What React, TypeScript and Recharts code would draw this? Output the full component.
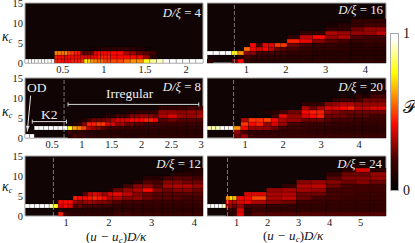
import { ComposedChart, ReferenceArea, ReferenceLine, XAxis, YAxis } from "recharts";

const colorStops = [
  { at: 0, rgb: [0, 0, 0] },
  { at: 0.2, rgb: [68, 0, 0] },
  { at: 0.42, rgb: [250, 8, 0] },
  { at: 0.75, rgb: [255, 255, 0] },
  { at: 0.97, rgb: [255, 255, 255] },
];

const kappaTicks = [0, 5, 10, 15];

const edges4 = [0.04, 0.08, 0.12, 0.16, 0.2, 0.24, 0.28, 0.32, 0.36, 0.4, 0.44, 0.48, 0.52, 0.56, 0.6, 0.64, 0.68, 0.72, 0.76, 0.8, 0.84, 0.88, 0.92, 0.96, 1, 1.04, 1.08, 1.16, 1.24, 1.32, 1.4, 1.48, 1.56, 1.64, 1.72, 1.8, 1.88, 1.96, 2.04, 2.12, 2.206];
const rows4 = [
  [1, 1, 1, 1, 1, 1, 1, 1, 1, 0.45, 0.45, 0.42, 0.42, 0.42, 0.45, 0.45, 0.45, 0.48, 0.74, 0.68, 0.6, 0.58, 0.55, 0.55, 0.5, 0.5, 0.5, 0.5, 0.55, 0.6, 0.6, 0.78, 0.88, 0.92, 1, 1, 1, 1, 1, 1],
  [0, 0, 0, 0, 0, 0, 0, 0, 0, 0.45, 0.42, 0.42, 0.4, 0.42, 0.42, 0.42, 0.4, 0.4, 0.38, 0.38, 0.4, 0.42, 0.45, 0.45, 0.45, 0.45, 0.42, 0.42, 0.42, 0.42, 0.4, 0.3, 0.12],
  [0, 0, 0, 0, 0, 0, 0, 0, 0, 0.58, 0.58, 0.56, 0.58, 0.5, 0.48, 0.45, 0.44, 0.24, 0.24, 0.24, 0.26, 0.4, 0.42, 0.42, 0.42, 0.42, 0.42, 0.42, 0.32, 0.3, 0.25, 0.22, 0.2],
  [0, 0, 0, 0, 0, 0, 0, 0, 0, 0, 0, 0, 0, 0, 0, 0, 0, 0, 0, 0, 0.06, 0.08, 0.1, 0.12, 0.12, 0.12, 0.14, 0.14, 0.14, 0.12, 0.1, 0.06],
];

const edges8 = [0.045, 0.12, 0.2, 0.28, 0.36, 0.44, 0.52, 0.6, 0.68, 0.76, 0.84, 0.92, 1, 1.08, 1.16, 1.24, 1.32, 1.4, 1.48, 1.56, 1.64, 1.72, 1.8, 1.88, 1.96, 2.04, 2.12, 2.2, 2.28, 2.44, 2.6, 2.76, 2.92, 3.03];
const rows8 = [
  [1, 1, 0, 0, 0, 0, 0, 0, 0, 0.12, 0.22, 0.18, 0.18, 0.15, 0.14, 0.14, 0.14, 0.15, 0.15, 0.14, 0.14, 0.12, 0.12, 0.12, 0.14, 0.14, 0.14, 0.14, 0.14, 0.14, 0.14, 0.14, 0.14],
  [0, 0, 0, 0, 0, 0, 0, 0, 0, 0.2, 0.15, 0.15, 0.15, 0.12, 0.12, 0.12, 0.12, 0.12, 0.12, 0.12, 0.12, 0.12, 0.12, 0.12, 0.12, 0.12, 0.12, 0.12, 0.12, 0.12, 0.12, 0.12, 0.12],
  [0, 0, 1, 1, 1, 1, 1, 1, 1, 0.78, 0.62, 0.58, 0.5, 0.35, 0.3, 0.28, 0.22, 0.2, 0.2, 0.18, 0.18, 0.16, 0.16, 0.15, 0.15, 0.15, 0.15, 0.15, 0.14, 0.14, 0.14, 0.14, 0.14],
  [0, 0, 0, 0, 0, 0, 0, 0, 0, 0.08, 0.12, 0.15, 0.28, 0.45, 0.45, 0.48, 0.48, 0.38, 0.38, 0.3, 0.32, 0.25, 0.25, 0.22, 0.22, 0.2, 0.2, 0.2, 0.18, 0.18, 0.18, 0.18, 0.18],
  [0, 0, 0, 0, 0, 0, 0, 0, 0, 0, 0, 0.08, 0.1, 0.2, 0.25, 0.25, 0.25, 0.28, 0.33, 0.38, 0.38, 0.38, 0.42, 0.42, 0.42, 0.45, 0.45, 0.42, 0.22, 0.25, 0.22, 0.22, 0.22],
  [0, 0, 0, 0, 0, 0, 0, 0, 0, 0, 0, 0, 0, 0, 0, 0, 0.08, 0.12, 0.12, 0.2, 0.2, 0.2, 0.28, 0.28, 0.3, 0.3, 0.28, 0.25, 0.33, 0.38, 0.3, 0.3, 0.33],
  [0, 0, 0, 0, 0, 0, 0, 0, 0, 0, 0, 0, 0, 0, 0, 0, 0, 0, 0, 0, 0, 0.1, 0.1, 0.12, 0.15, 0.15, 0.15, 0.15, 0.3, 0.3, 0.28, 0.3, 0.3],
  [0, 0, 0, 0, 0, 0, 0, 0, 0, 0, 0, 0, 0, 0, 0, 0, 0, 0, 0, 0, 0, 0, 0, 0, 0, 0, 0, 0, 0.15, 0.15, 0.15, 0.2, 0.2],
];

const edges12 = [0.035, 0.15, 0.26, 0.38, 0.49, 0.6, 0.7, 0.81, 0.93, 1.04, 1.16, 1.27, 1.38, 1.5, 1.61, 1.73, 1.84, 1.96, 2.09, 2.32, 2.56, 2.79, 3.03, 3.26, 3.49, 3.73, 3.96, 4.2];
const rows12 = [
  [0, 0, 0, 0, 0, 0, 0, 0.45, 0.2, 0.16, 0.14, 0.14, 0.14, 0.14, 0.14, 0.14, 0.14, 0.14, 0.2, 0.2, 0.18, 0.18, 0.18, 0.18, 0.18, 0.18, 0.18],
  [0, 0, 0, 0, 0, 0, 0, 0.12, 0.1, 0.12, 0.12, 0.12, 0.12, 0.12, 0.12, 0.12, 0.12, 0.12, 0.14, 0.14, 0.14, 0.14, 0.14, 0.14, 0.14, 0.14, 0.14],
  [1, 1, 1, 1, 1, 0.9, 0.78, 0.38, 0.42, 0.38, 0.2, 0.25, 0.2, 0.2, 0.2, 0.18, 0.18, 0.18, 0.16, 0.16, 0.16, 0.16, 0.16, 0.16, 0.16, 0.16, 0.16],
  [0, 0, 0, 0, 0, 0, 0, 0.42, 0.42, 0.42, 0.3, 0.28, 0.3, 0.32, 0.3, 0.28, 0.28, 0.25, 0.22, 0.2, 0.2, 0.18, 0.18, 0.18, 0.18, 0.18, 0.18],
  [0, 0, 0, 0, 0, 0, 0, 0, 0, 0, 0.45, 0.42, 0.42, 0.44, 0.46, 0.45, 0.42, 0.33, 0.33, 0.28, 0.3, 0.25, 0.22, 0.22, 0.22, 0.2, 0.2],
  [0, 0, 0, 0, 0, 0, 0, 0, 0, 0, 0, 0, 0.22, 0.35, 0.38, 0.35, 0.3, 0.38, 0.4, 0.35, 0.28, 0.25, 0.22, 0.22, 0.22, 0.22, 0.22],
  [0, 0, 0, 0, 0, 0, 0, 0, 0, 0, 0, 0, 0, 0, 0, 0, 0, 0.1, 0.25, 0.3, 0.33, 0.42, 0.28, 0.25, 0.28, 0.28, 0.25],
  [0, 0, 0, 0, 0, 0, 0, 0, 0, 0, 0, 0, 0, 0, 0, 0, 0, 0, 0, 0.2, 0.28, 0.28, 0.22, 0.32, 0.33, 0.33, 0.3],
  [0, 0, 0, 0, 0, 0, 0, 0, 0, 0, 0, 0, 0, 0, 0, 0, 0, 0, 0, 0, 0.12, 0.22, 0.2, 0.28, 0.28, 0.25, 0.25],
  [0, 0, 0, 0, 0, 0, 0, 0, 0, 0, 0, 0, 0, 0, 0, 0, 0, 0, 0, 0, 0, 0.12, 0.12, 0.2, 0.22, 0.22, 0.2],
  [0, 0, 0, 0, 0, 0, 0, 0, 0, 0, 0, 0, 0, 0, 0, 0, 0, 0, 0, 0, 0, 0, 0, 0, 0.12, 0.12, 0.12],
  [0, 0, 0, 0, 0, 0, 0, 0, 0, 0, 0, 0, 0, 0, 0, 0, 0, 0, 0, 0, 0, 0, 0, 0, 0, 0.08, 0.1],
];

const edges16 = [0.01, 0.165, 0.32, 0.475, 0.63, 0.785, 0.94, 1.095, 1.25, 1.405, 1.56, 1.715, 1.87, 2.025, 2.35, 2.67, 2.99, 3.31, 3.63, 3.95, 4.27, 4.52];
const rows16 = [
  [0.15, 0, 0, 0, 0.25, 0.42, 0.14, 0.12, 0.12, 0.12, 0.12, 0.12, 0.12, 0.12, 0.14, 0.14, 0.14, 0.14, 0.14, 0.14, 0.14],
  [0, 0, 0, 0, 0.05, 0.1, 0.2, 0.15, 0.15, 0.14, 0.14, 0.14, 0.14, 0.12, 0.12, 0.12, 0.12, 0.12, 0.12, 0.12, 0.12],
  [1, 1, 1, 1, 0.75, 0.6, 0.28, 0.28, 0.2, 0.2, 0.2, 0.18, 0.18, 0.14, 0.14, 0.12, 0.12, 0.12, 0.12, 0.12, 0.12],
  [0, 0, 0, 0, 0, 0, 0.55, 0.42, 0.38, 0.42, 0.35, 0.25, 0.22, 0.2, 0.16, 0.14, 0.14, 0.14, 0.12, 0.12, 0.12],
  [0, 0, 0, 0, 0, 0, 0, 0.42, 0.2, 0.4, 0.38, 0.48, 0.48, 0.25, 0.2, 0.16, 0.16, 0.14, 0.12, 0.14, 0.14],
  [0, 0, 0, 0, 0, 0, 0, 0, 0, 0, 0, 0, 0.08, 0.45, 0.4, 0.28, 0.22, 0.2, 0.16, 0.18, 0.18],
  [0, 0, 0, 0, 0, 0, 0, 0, 0, 0, 0, 0, 0, 0.15, 0.35, 0.42, 0.3, 0.33, 0.22, 0.2, 0.2],
  [0, 0, 0, 0, 0, 0, 0, 0, 0, 0, 0, 0, 0, 0, 0.15, 0.15, 0.33, 0.3, 0.3, 0.3, 0.35],
  [0, 0, 0, 0, 0, 0, 0, 0, 0, 0, 0, 0, 0, 0, 0, 0, 0.15, 0.15, 0.25, 0.3, 0.3],
  [0, 0, 0, 0, 0, 0, 0, 0, 0, 0, 0, 0, 0, 0, 0, 0, 0.08, 0.12, 0.15, 0.2, 0.2],
  [0, 0, 0, 0, 0, 0, 0, 0, 0, 0, 0, 0, 0, 0, 0, 0, 0, 0, 0.15, 0.15, 0.15],
];

const edges20 = [0, 0.115, 0.23, 0.345, 0.46, 0.575, 0.69, 0.89, 1.09, 1.29, 1.49, 1.69, 1.89, 2.11, 2.49, 2.69, 2.89, 3.09, 3.29, 3.49, 3.69, 3.89, 4.09, 4.29, 4.49, 4.71];
const rows20 = [
  [0, 0, 0, 0, 0, 0, 0.25, 0.3, 0.18, 0.18, 0.18, 0.18, 0.18, 0.18, 0.18, 0.18, 0.18, 0.18, 0.18, 0.18, 0.18, 0.18, 0.18, 0.18, 0.18],
  [0, 0, 0, 0, 0, 0, 0.3, 0.2, 0.15, 0.15, 0.15, 0.15, 0.15, 0.15, 0.14, 0.14, 0.14, 0.14, 0.14, 0.14, 0.14, 0.14, 0.14, 0.14, 0.14],
  [0.9, 0.9, 0.9, 1, 1, 1, 0.6, 0.42, 0.3, 0.3, 0.3, 0.25, 0.18, 0.18, 0.16, 0.16, 0.16, 0.14, 0.14, 0.14, 0.14, 0.14, 0.14, 0.14, 0.14],
  [0, 0, 0, 0, 0, 0, 0.05, 0.48, 0.42, 0.45, 0.3, 0.38, 0.3, 0.2, 0.18, 0.18, 0.18, 0.18, 0.16, 0.16, 0.16, 0.16, 0.16, 0.16, 0.16],
  [0, 0, 0, 0, 0, 0, 0, 0.33, 0.48, 0.47, 0.5, 0.42, 0.33, 0.3, 0.25, 0.25, 0.25, 0.22, 0.2, 0.2, 0.2, 0.18, 0.18, 0.18, 0.18],
  [0, 0, 0, 0, 0, 0, 0, 0, 0, 0, 0, 0.2, 0.4, 0.3, 0.38, 0.42, 0.45, 0.25, 0.25, 0.25, 0.22, 0.22, 0.22, 0.2, 0.2],
  [0, 0, 0, 0, 0, 0, 0, 0, 0, 0, 0.1, 0.12, 0.2, 0.25, 0.42, 0.45, 0.45, 0.3, 0.28, 0.25, 0.25, 0.25, 0.25, 0.25, 0.25],
  [0, 0, 0, 0, 0, 0, 0, 0, 0, 0, 0, 0, 0, 0, 0.33, 0.25, 0.32, 0.38, 0.38, 0.42, 0.45, 0.35, 0.35, 0.38, 0.38],
  [0, 0, 0, 0, 0, 0, 0, 0, 0, 0, 0, 0, 0, 0, 0.15, 0.15, 0.15, 0.28, 0.3, 0.33, 0.33, 0.3, 0.3, 0.3, 0.3],
  [0, 0, 0, 0, 0, 0, 0, 0, 0, 0, 0, 0, 0, 0, 0, 0, 0, 0, 0.15, 0.18, 0.18, 0.2, 0.25, 0.25, 0.25],
  [0, 0, 0, 0, 0, 0, 0, 0, 0, 0, 0, 0, 0, 0, 0, 0, 0, 0, 0, 0.1, 0, 0.15, 0.1, 0.2, 0.2],
  [0, 0, 0, 0, 0, 0, 0, 0, 0, 0, 0, 0, 0, 0, 0, 0, 0, 0, 0, 0, 0, 0, 0, 0.12, 0.1],
];

const edges24 = [0.04, 0.16, 0.29, 0.41, 0.53, 0.65, 0.76, 0.87, 1, 1.24, 1.48, 1.96, 2.45, 2.93, 3.41, 3.89, 4.38, 4.84, 5.31, 5.82];
const rows24 = [
  [0, 0, 0, 0, 0, 0.1, 0.12, 0.2, 0.4, 0.15, 0.22, 0.22, 0.22, 0.22, 0.22, 0.22, 0.22, 0.22, 0.22],
  [0, 0, 0, 0, 0, 0.15, 0.2, 0.15, 0.38, 0.12, 0.18, 0.15, 0.15, 0.15, 0.15, 0.15, 0.15, 0.15, 0.15],
  [1, 1, 1, 1, 0.92, 0.3, 0.3, 0.25, 0.3, 0.2, 0.2, 0.15, 0.15, 0.15, 0.15, 0.15, 0.15, 0.15, 0.15],
  [0, 0, 0, 0, 0, 0.42, 0.35, 0.35, 0.38, 0.4, 0.33, 0.28, 0.25, 0.18, 0.18, 0.16, 0.16, 0.16, 0.16],
  [0, 0, 0, 0, 0, 0.6, 0.72, 0.65, 0.42, 0.42, 0.5, 0.32, 0.35, 0.25, 0.2, 0.2, 0.18, 0.18, 0.18],
  [0, 0, 0, 0, 0, 0, 0, 0, 0, 0.38, 0.38, 0.32, 0.33, 0.25, 0.25, 0.2, 0.2, 0.18, 0.18],
  [0, 0, 0, 0, 0, 0, 0, 0, 0, 0, 0, 0.3, 0.32, 0.32, 0.3, 0.2, 0.2, 0.2, 0.2],
  [0, 0, 0, 0, 0, 0, 0, 0, 0, 0, 0, 0, 0.15, 0.33, 0.35, 0.25, 0.2, 0.2, 0.2],
  [0, 0, 0, 0, 0, 0, 0, 0, 0, 0, 0, 0, 0, 0.28, 0.3, 0.28, 0.25, 0.28, 0.25],
  [0, 0, 0, 0, 0, 0, 0, 0, 0, 0, 0, 0, 0, 0, 0, 0.22, 0.28, 0.28, 0.3],
  [0, 0, 0, 0, 0, 0, 0, 0, 0, 0, 0, 0, 0, 0, 0, 0.15, 0.25, 0.25, 0.3],
  [0, 0, 0, 0, 0, 0, 0, 0, 0, 0, 0, 0, 0, 0, 0, 0, 0.12, 0.38, 0.12],
  [0, 0, 0, 0, 0, 0, 0, 0, 0, 0, 0, 0, 0, 0, 0, 0, 0.1, 0.1, 0],
];

const FONT = '"Liberation Serif", serif';
const BG = "#100404";

const heat = (v: number) => {
  for (let i = 1; i < colorStops.length; i++) {
    const a = colorStops[i - 1];
    const b = colorStops[i];
    if (v <= b.at) {
      const t = (v - a.at) / (b.at - a.at);
      const c = a.rgb.map((n, k) => Math.round(n + (b.rgb[k] - n) * t));
      return `rgb(${c.join(",")})`;
    }
  }
  return "#fff";
};

const Arrow = ({ x1, y1, x2, y2 }: any) => {
  const ang = Math.atan2(y2 - y1, x2 - x1);
  const wing = (d: number) =>
    `${x2 - 6 * Math.cos(ang + d)},${y2 - 6 * Math.sin(ang + d)}`;
  return (
    <g>
      <line x1={x1} y1={y1} x2={x2} y2={y2} stroke="#e4e4e4" strokeWidth={1} />
      <polygon points={`${x2},${y2} ${wing(0.3)} ${wing(-0.3)}`} fill="#e4e4e4" />
    </g>
  );
};

interface PanelProps {
  left: number;
  top: number;
  width: number;
  axisWidth: number;
  edges: number[];
  rows: number[][];
  xTicks: number[];
  dashed?: boolean;
  children?: any;
}

const bracket = (from: number, to: number, y: number, key: string) => [
  <ReferenceLine key={key + "h"} stroke="#d8d8d8" strokeWidth={1} segment={[{ x: from, y }, { x: to, y }]} />,
  <ReferenceLine key={key + "l"} stroke="#d8d8d8" strokeWidth={1} segment={[{ x: from, y: y - 0.5 }, { x: from, y: y + 0.5 }]} />,
  <ReferenceLine key={key + "r"} stroke="#d8d8d8" strokeWidth={1} segment={[{ x: to, y: y - 0.5 }, { x: to, y: y + 0.5 }]} />,
];

const Panel = ({ left, top, width, axisWidth, edges, rows, xTicks, dashed, children }: PanelProps) => {
  const xMin = edges[0];
  const xMax = edges[edges.length - 1];
  return (
    <div style={{ position: "absolute", left, top }}>
      <ComposedChart
        width={width + axisWidth + 3}
        height={84}
        data={[]}
        margin={{ top: 8, right: 3, bottom: 0, left: 0 }}
      >
        <XAxis
          type="number"
          dataKey="x"
          domain={[xMin, xMax]}
          ticks={xTicks}
          interval={0}
          allowDataOverflow
          tickSize={0}
          tickMargin={3}
          axisLine={false}
          height={16}
          tick={{ fontSize: 10.5, fontFamily: FONT, fill: "#1a1a1a" }}
        />
        <YAxis
          type="number"
          domain={[0, 15]}
          ticks={kappaTicks}
          interval={0}
          allowDataOverflow
          width={axisWidth}
          tickSize={0}
          tickMargin={2}
          axisLine={false}
          tick={axisWidth ? { fontSize: 10.5, fontFamily: FONT, fill: "#1a1a1a" } : false}
        />
        <ReferenceArea x1={xMin} x2={xMax} y1={0} y2={15} fill={BG} fillOpacity={1} stroke="#a8a8a8" strokeWidth={1} ifOverflow="visible" />
        {rows.flatMap((row, r) =>
          row.map((v, c) =>
            v > 0 ? (
              <ReferenceArea
                key={`${r}-${c}`}
                x1={edges[c]}
                x2={edges[c + 1]}
                y1={r}
                y2={r + 1}
                fill={heat(v)}
                fillOpacity={1}
                stroke="#000"
                strokeOpacity={0.35}
                strokeWidth={0.5}
                ifOverflow="visible"
              />
            ) : null
          )
        )}
        {dashed && (
          <ReferenceLine x={0.7} stroke="#aaaaaa" strokeWidth={0.7} strokeDasharray="4 2" />
        )}
        {children}
      </ComposedChart>
    </div>
  );
};

const textAt = (x: number, y: number, style: any) => ({
  position: "absolute" as const,
  left: x,
  top: y,
  transform: "translateY(-50%)",
  fontFamily: FONT,
  lineHeight: 1,
  whiteSpace: "nowrap" as const,
  ...style,
});

const RatioLabel = ({ right, y, value }: { right: number; y: number; value: number }) => (
  <div style={textAt(0, y, { left: "auto", right: 415 - right, color: "#eeeeee", fontSize: 12.8, fontStyle: "italic" })}>
    D/ξ <span style={{ fontStyle: "normal" }}>=</span> <span style={{ fontStyle: "normal" }}>{value}</span>
  </div>
);

const KappaLabel = ({ y }: { y: number }) => (
  <div style={textAt(2, y, { fontSize: 14, fontStyle: "italic", color: "#111" })}>
    κ<sub style={{ fontSize: 8, verticalAlign: "-2px" }}>c</sub>
  </div>
);

const XLabel = ({ x, y }: { x: number; y: number }) => (
  <div style={textAt(x, y, { fontSize: 13, fontStyle: "italic", color: "#111" })}>
    <span style={{ fontStyle: "normal" }}>(</span>u − u<sub style={{ fontSize: 9, verticalAlign: "-2px" }}>c</sub>
    <span style={{ fontStyle: "normal" }}>)</span>D/κ
  </div>
);

const barGradient = `linear-gradient(to top, ${colorStops
  .map((s) => `${heat(s.at)} ${s.at * 100}%`)
  .join(", ")})`;

export default function App() {
  return (
    <div style={{ position: "absolute", left: 0, top: 0, width: 415, height: 243, overflow: "hidden", background: "#fff" }}>
      <Panel left={0} top={-5} width={178} axisWidth={25} edges={edges4} rows={rows4} xTicks={[0.5, 1, 1.5, 2]} />
      <Panel left={0} top={70} width={178} axisWidth={25} edges={edges8} rows={rows8} xTicks={[0.5, 1, 1.5, 2, 2.5, 3]} dashed>
        {bracket(0.167, 0.74, 4.1, "k2")}
        {bracket(0.767, 2.96, 8.4, "irr")}
        <ReferenceLine
          segment={[{ x: 0.14, y: 10.6 }, { x: 0.083, y: 1.6 }]}
          shape={Arrow}
        />
      </Panel>
      <Panel left={0} top={148} width={178} axisWidth={25} edges={edges12} rows={rows12} xTicks={[1, 2, 3, 4]} dashed />
      <Panel left={207} top={-5} width={179} axisWidth={0} edges={edges16} rows={rows16} xTicks={[1, 2, 3, 4]} dashed />
      <Panel left={207} top={70} width={179} axisWidth={0} edges={edges20} rows={rows20} xTicks={[1, 2, 3, 4]} dashed />
      <Panel left={207} top={148} width={179} axisWidth={0} edges={edges24} rows={rows24} xTicks={[1, 2, 3, 4, 5]} dashed />

      <RatioLabel right={201} y={13} value={4} />
      <RatioLabel right={201} y={87} value={8} />
      <RatioLabel right={201} y={164} value={12} />
      <RatioLabel right={383} y={10} value={16} />
      <RatioLabel right={383} y={87} value={20} />
      <RatioLabel right={382} y={164} value={24} />

      <KappaLabel y={37} />
      <KappaLabel y={112} />
      <KappaLabel y={187} />
      <XLabel x={86} y={237} />
      <XLabel x={263} y={236} />

      <div style={textAt(27, 88, { fontSize: 13.5, color: "#eee" })}>OD</div>
      <div style={textAt(41, 115, { fontSize: 13.5, color: "#eee" })}>K2</div>
      <div style={textAt(106, 94, { fontSize: 13.5, color: "#eee" })}>Irregular</div>

      <div style={{ position: "absolute", left: 390, top: 33, width: 9, height: 158, background: barGradient, border: "1px solid #aaa", boxSizing: "border-box" }} />
      <div style={textAt(403, 34, { fontSize: 14, color: "#111" })}>1</div>
      <div style={textAt(403, 191, { fontSize: 14, color: "#111" })}>0</div>
      <div style={textAt(403, 107, { fontSize: 18, color: "#111", fontFamily: '"DejaVu Sans", serif' })}>𝒫</div>
    </div>
  );
}
